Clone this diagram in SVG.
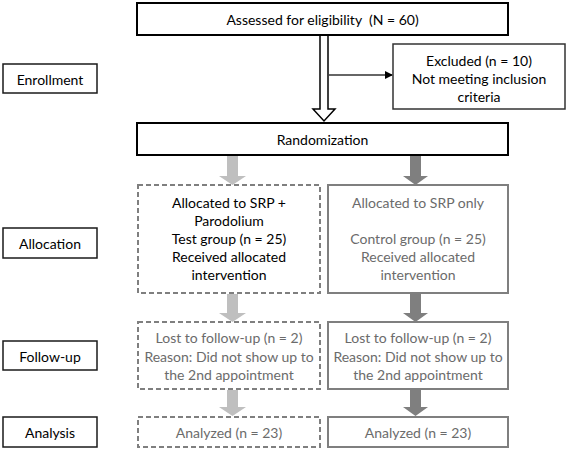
<svg xmlns="http://www.w3.org/2000/svg" width="567" height="450" viewBox="0 0 567 450">
<defs>
<style>
text{font-family:Lato,"Liberation Sans",sans-serif;font-size:14px;text-anchor:middle;dominant-baseline:central}
.main{fill:#fff;stroke:#000;stroke-width:2}
.lbl{fill:#fff;stroke:#1a1a1a;stroke-width:1.5}
.exc{fill:#fff;stroke:#333;stroke-width:1.5}
.dash{fill:#fff;stroke:#7f7f7f;stroke-width:2;stroke-dasharray:5 3}
.solid{fill:#fff;stroke:#7f7f7f;stroke-width:2}
.k{fill:#000}
.g{fill:#6b6b6b}
.lt{fill:#bfbfbf}
.dk{fill:#7f7f7f}
</style>
<marker id="ah" markerWidth="8" markerHeight="8" refX="7" refY="4" orient="auto" markerUnits="userSpaceOnUse">
<path d="M0,0 L8,4 L0,8 Z" fill="#000"/>
</marker>
</defs>

<g id="connectors">
<polygon points="320,35 328,35 328,109 335,109 324,121 313,109 320,109" fill="#fff" stroke="#000" stroke-width="1.5"/>
<line x1="329" y1="75" x2="392" y2="75" stroke="#333" stroke-width="1.5" marker-end="url(#ah)"/>
<polygon class="lt" points="227,156 238,156 238,176 246,176 232.5,185 219,176 227,176"/>
<polygon class="dk" points="410,156 421,156 421,176 428,176 415.5,185 403,176 410,176"/>
<polygon class="lt" points="227,294 238,294 238,313 246,313 232.5,322 219,313 227,313"/>
<polygon class="dk" points="410,294 421,294 421,313 428,313 415.5,322 403,313 410,313"/>
<polygon class="lt" points="227,390 238,390 238,407 246,407 232.5,416 219,407 227,407"/>
<polygon class="dk" points="410,390 421,390 421,407 428,407 415.5,416 403,407 410,407"/>
</g>

<g id="assessed">
<rect class="main" x="137" y="3" width="371" height="32"/>
<text class="k" x="322.5" y="19">Assessed for eligibility&#160; (N = 60)</text>
</g>
<g id="excluded">
<rect class="exc" x="393" y="44" width="172" height="65"/>
<text class="k" x="479" y="60">Excluded (n = 10)</text>
<text class="k" x="479" y="78">Not meeting inclusion</text>
<text class="k" x="479" y="96">criteria</text>
</g>
<g id="enrollment">
<rect class="lbl" x="3" y="64" width="94" height="29"/>
<text class="k" x="50" y="79">Enrollment</text>
</g>
<g id="randomization">
<rect class="main" x="137" y="123" width="371" height="32"/>
<text class="k" x="322.5" y="139">Randomization</text>
</g>
<g id="allocation">
<rect class="lbl" x="3" y="228" width="94" height="30"/>
<text class="k" x="50" y="243">Allocation</text>
</g>
<g id="alloc-test">
<rect class="dash" x="138" y="185" width="182" height="108"/>
<text class="k" x="229" y="202">Allocated to SRP +</text>
<text class="k" x="229" y="220">Parodolium</text>
<text class="k" x="229" y="238">Test group (n = 25)</text>
<text class="k" x="229" y="256">Received allocated</text>
<text class="k" x="229" y="274">intervention</text>
</g>
<g id="alloc-control">
<rect class="solid" x="328" y="185" width="180" height="108"/>
<text class="g" x="418" y="202">Allocated to SRP only</text>
<text class="g" x="418" y="238">Control group (n = 25)</text>
<text class="g" x="418" y="256">Received allocated</text>
<text class="g" x="418" y="274">intervention</text>
</g>
<g id="followup">
<rect class="lbl" x="3" y="341" width="94" height="29"/>
<text class="k" x="50" y="356">Follow-up</text>
</g>
<g id="follow-test">
<rect class="dash" x="138" y="322" width="182" height="67"/>
<text class="g" x="229" y="337">Lost to follow-up (n = 2)</text>
<text class="g" x="229" y="356">Reason: Did not show up to</text>
<text class="g" x="229" y="374">the 2nd appointment</text>
</g>
<g id="follow-control">
<rect class="solid" x="328" y="322" width="180" height="67"/>
<text class="g" x="418" y="337">Lost to follow-up (n = 2)</text>
<text class="g" x="418" y="356">Reason: Did not show up to</text>
<text class="g" x="418" y="374">the 2nd appointment</text>
</g>
<g id="analysis">
<rect class="lbl" x="3" y="417" width="94" height="30"/>
<text class="k" x="50" y="432">Analysis</text>
</g>
<g id="analysis-test">
<rect class="dash" x="138" y="417" width="182" height="30"/>
<text class="g" x="229" y="432">Analyzed (n = 23)</text>
</g>
<g id="analysis-control">
<rect class="solid" x="328" y="417" width="180" height="30"/>
<text class="g" x="418" y="432">Analyzed (n = 23)</text>
</g>
</svg>
